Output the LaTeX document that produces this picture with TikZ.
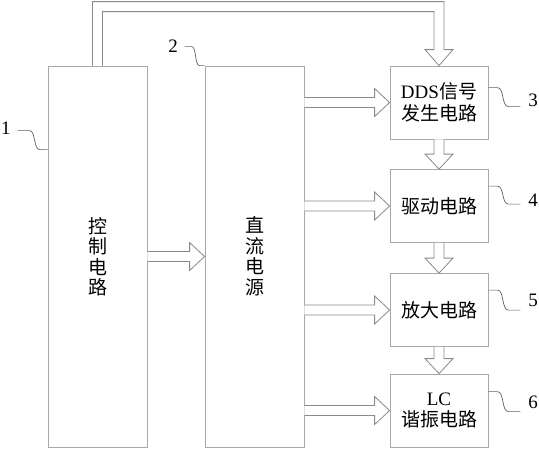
\documentclass[tikz,border=0pt]{standalone}
\usepackage{fontspec}
\setmainfont{Liberation Serif}
\newfontfamily\cjk{Noto Sans CJK SC}
\usetikzlibrary{calc}
\definecolor{boxc}{HTML}{A8A8A8}
\definecolor{arrc}{HTML}{8A8A8A}
\definecolor{leadc}{HTML}{606060}
\tikzset{
  box/.style={draw=boxc, line width=0.8pt, minimum width=98pt, minimum height=73pt, inner sep=0pt, align=center, font=\fontsize{19}{21.5}\selectfont},
  tall/.style={box, minimum width=99pt, minimum height=381pt, font=\fontsize{19}{20.5}\selectfont\cjk},
  arr/.style={draw=arrc, line width=0.8pt, fill=white},
  lead/.style={draw=leadc, line width=0.7pt},
  lbl/.style={font=\fontsize{19}{19}\selectfont, inner sep=0pt}
}
\newcommand{\hollowH}[2]{%
  \draw[arr] ($(#1.east |- #2.west)+(0,-5)$) -- ($(#2.west)+(-15,-5)$) -- ($(#2.west)+(-15,-14)$) -- (#2.west) -- ($(#2.west)+(-15,14)$) -- ($(#2.west)+(-15,5)$) -- ($(#1.east |- #2.west)+(0,5)$);}
\newcommand{\hollowV}[2]{%
  \draw[arr] ($(#1.south)+(-5,0)$) -- ($(#2.north)+(-5,-15)$) -- ($(#2.north)+(-14,-15)$) -- (#2.north) -- ($(#2.north)+(14,-15)$) -- ($(#2.north)+(5,-15)$) -- ($(#1.south)+(5,0)$);}
\begin{document}
\begin{tikzpicture}[x=1pt,y=-1pt]
\useasboundingbox (0,0) rectangle (539,450);
\node[tall] (b1) at (97.5,256.5) {控\\制\\电\\路};
\node[tall] (b2) at (254.5,256.5) {直\\流\\电\\源};
\node[box] (b3) at (439,102.5) {DDS{\cjk 信号}\\{\cjk 发生电路}};
\node[box] (b4) at (439,206) {\cjk 驱动电路};
\node[box] (b5) at (439,310) {\cjk 放大电路};
\node[box] (b6) at (439,410.5) {LC\\{\cjk 谐振电路}};
% arrows
\hollowH{b1}{b2}
\hollowH{b2}{b3}
\hollowH{b2}{b4}
\hollowH{b2}{b5}
\hollowH{b2}{b6}
\hollowV{b3}{b4}
\hollowV{b4}{b5}
\hollowV{b5}{b6}
\draw[arr] ($(b1.north)+(-5,0)$) -- ($(b1.north)+(-5,-64)$) -- ($(b3.north)+(5,-64)$) -- ($(b3.north)+(5,-16)$) -- ($(b3.north)+(14,-16)$) -- (b3.north) -- ($(b3.north)+(-14,-16)$) -- ($(b3.north)+(-5,-16)$) -- ($(b3.north)+(-5,-54)$) -- ($(b1.north)+(5,-54)$) -- ($(b1.north)+(5,0)$);
% labels
\node[lbl] (l1) at (6,128) {1};
\node[lbl] (l2) at (173,46) {2};
\node[lbl] (l3) at (533,100) {3};
\node[lbl] (l4) at (533,200) {4};
\node[lbl] (l5) at (533,300) {5};
\node[lbl] (l6) at (533,402) {6};
\draw[lead] ($(b1.north west)+(0,84)$) -- ++(-8,0) .. controls +(-6,0) and +(6,0) .. ++(-10,-19) -- ++(-12,0);
\draw[lead] (b2.north west) -- ++(-5,0) .. controls +(-5,0) and +(5,0) .. ++(-8,-19) -- ++(-7,0);
\draw[lead] ($(b3.north east)+(0,22)$) -- ++(9,0) .. controls +(7,0) and +(-7,0) .. ++(11,19) -- ++(12,0);
\draw[lead] ($(b4.north east)+(0,17)$) -- ++(9,0) .. controls +(7,0) and +(-7,0) .. ++(11,18) -- ++(12,0);
\draw[lead] ($(b5.north east)+(0,17)$) -- ++(9,0) .. controls +(7,0) and +(-7,0) .. ++(11,20) -- ++(12,0);
\draw[lead] ($(b6.north east)+(0,18)$) -- ++(9,0) .. controls +(7,0) and +(-7,0) .. ++(11,20) -- ++(12,0);
\end{tikzpicture}
\end{document}
